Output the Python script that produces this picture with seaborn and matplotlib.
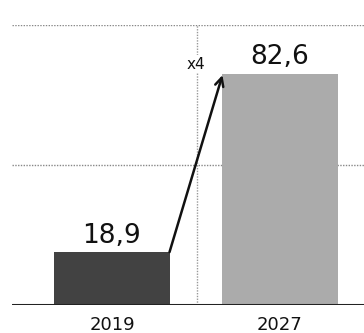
import matplotlib
matplotlib.use("Agg")
import matplotlib.pyplot as plt
import seaborn as sns
import pandas as pd

years = ["2019", "2027"]
values = [18.9, 82.6]
value_labels = ["18,9", "82,6"]
growth_label = "x4"
bar_colors = ["#424242", "#ababab"]

sns.set_theme(style="white")
plt.rcParams['font.family'] = ['DejaVu Sans']

df = pd.DataFrame({"year": years, "value": values})

fig = plt.figure(figsize=(3.64, 3.33), dpi=100)
ax = fig.add_axes([12/364, 1 - 305/333, 1 - 12/364, (305 - 25)/333])

sns.barplot(data=df, x="year", y="value", hue="year", palette=bar_colors,
            width=0.685, legend=False, ax=ax, saturation=1, edgecolor="none")

ax.set_xlim(-0.595, 1.5)
ax.set_ylim(0, 100)
for s in ax.spines.values():
    s.set_visible(False)
ax.set_yticks([])
ax.set_xlabel("")
ax.set_ylabel("")

# gridlines
for g in [50, 100]:
    ax.axhline(g, color="#888888", lw=1.0, ls=(0, (1, 1)), zorder=0)
ax.axvline(0.506, color="#999999", lw=1.0, ls=(0, (1, 1)), zorder=0)
ax.axhline(0, color="#222222", lw=2.2, zorder=3)

ax.tick_params(axis="x", length=0, pad=8, labelsize=13, labelcolor="#111111")

# value labels
for i, (v, t) in enumerate(zip(values, value_labels)):
    ax.text(i, v + 3.3, t, ha="center", va="baseline", fontsize=19, color="#111111")

# arrow
half = 0.685 / 2
ax.annotate("", xy=(1 - half, values[1] - 0.5), xytext=(0 + half, values[0]),
            arrowprops=dict(arrowstyle="->,head_length=0.5,head_width=0.25",
                            color="#111111", lw=1.8, shrinkA=0, shrinkB=0),
            zorder=4)
ax.text(0.5, 86, growth_label, ha="center", va="center", fontsize=11, color="#111111",
        bbox=dict(facecolor="white", edgecolor="none", pad=1))

fig.savefig("out.png", dpi=100)
